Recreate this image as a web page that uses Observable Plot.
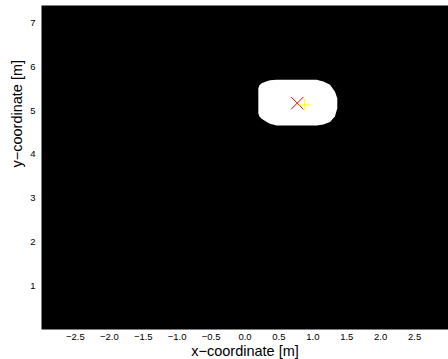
<!DOCTYPE html>
<html>
<head>
<meta charset="utf-8">
<script src="https://cdn.jsdelivr.net/npm/d3@7"></script>
<script src="https://cdn.jsdelivr.net/npm/@observablehq/plot@0.6"></script>
<style>
  html, body { margin: 0; padding: 0; background: white; }
  svg { display: block; }
</style>
</head>
<body>
<div id="chart"></div>
<script>
// Blob (white region) outline: for each x, top and bottom y
const blobX      = [0.204, 0.219, 0.253, 0.327, 0.376, 0.474, 0.80, 1.064, 1.162, 1.261, 1.334, 1.368];
const blobTop    = [5.50,  5.56,  5.61,  5.66,  5.68,  5.69,  5.69, 5.69,  5.65,  5.58,  5.42,  5.27];
const blobBottom = [4.93,  4.86,  4.80,  4.73,  4.69,  4.65,  4.65, 4.65,  4.67,  4.73,  4.86,  5.04];

// Markers
const estimate = {x: 0.77, y: 5.17};   // red x
const truth    = {x: 0.88, y: 5.13};   // yellow +

// Ticks
const xTicks = [-2.5, -2.0, -1.5, -1.0, -0.5, 0.0, 0.5, 1.0, 1.5, 2.0, 2.5];
const yTicks = [1, 2, 3, 4, 5, 6, 7];

const blob = blobX.map((x, i) => ({x, y1: blobTop[i], y2: blobBottom[i]}));

const chart = Plot.plot({
  width: 448,
  height: 359,
  marginLeft: 41,
  marginRight: 0,
  marginTop: 5,
  marginBottom: 30,
  style: {fontFamily: "'Liberation Sans', Arial, sans-serif", fontSize: "9.5px", color: "black", background: "white"},
  x: {domain: [-3, 3], ticks: xTicks, tickFormat: d3.format(".1f"), tickSize: 0, tickPadding: 4, label: null},
  y: {domain: [0, 7.4], ticks: yTicks, tickFormat: d3.format("d"), tickSize: 0, tickPadding: 6, label: null},
  marks: [
    Plot.frame({fill: "black"}),
    Plot.areaY(blob, {x: "x", y1: "y1", y2: "y2", fill: "white", curve: "linear"}),
    Plot.dot([estimate], {x: "x", y: "y", symbol: "times", r: 5.7, stroke: "red", strokeWidth: 1}),
    Plot.dot([truth], {x: "x", y: "y", symbol: "plus", r: 3.9, stroke: "yellow", strokeWidth: 1}),
    Plot.text(["x\u2212coordinate [m]"], {frameAnchor: "bottom", lineAnchor: "middle", dy: 21.5, fontSize: 14.5, fill: "black"}),
    Plot.text(["y\u2212coordinate [m]"], {frameAnchor: "left", lineAnchor: "middle", dx: -24, rotate: -90, fontSize: 14.5, fill: "black"})
  ]
});
document.getElementById("chart").appendChild(chart);
</script>
</body>
</html>
